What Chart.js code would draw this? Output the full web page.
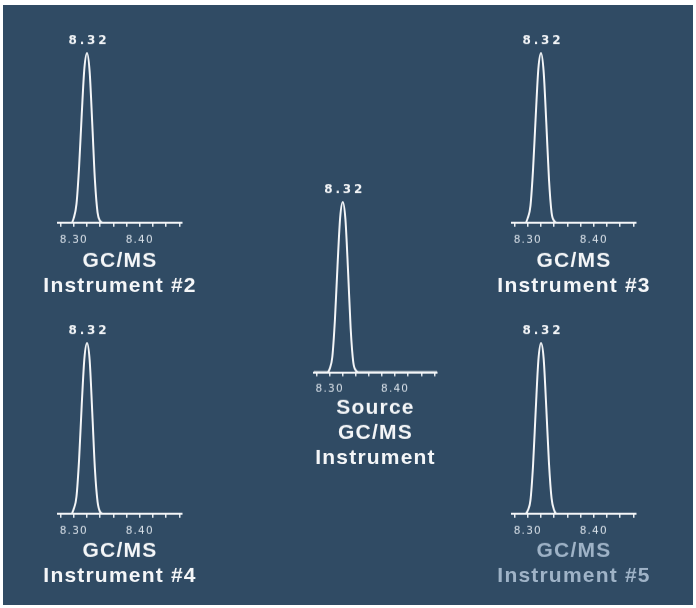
<!DOCTYPE html>
<html>
<head>
<meta charset="utf-8">
<script src="https://cdn.jsdelivr.net/npm/chart.js@4.4.0/dist/chart.umd.min.js"></script>
<style>
  html, body { margin: 0; padding: 0; background: #ffffff; }
  body { width: 696px; height: 608px; position: relative; overflow: hidden; }
  #board { position: absolute; left: 3px; top: 5px; right: 3px; bottom: 3px; background: #304b64; }
  .cell { position: absolute; }
</style>
</head>
<body>
<div id="board"></div>
<script>
// Retention time (min) of each sampled point; shared by all five traces.
const retentionTimes = [8.276, 8.296, 8.300, 8.304, 8.308, 8.312, 8.316, 8.320, 8.324, 8.328, 8.332, 8.336, 8.340, 8.344, 8.464];

// Normalised detector response for each instrument.
const sourceSignal      = [0, 0, 0.02, 0.09, 0.31, 0.63, 0.91, 1.00, 0.90, 0.60, 0.26, 0.06, 0.01, 0, 0];
const instrument2Signal = [0, 0, 0.03, 0.11, 0.33, 0.64, 0.91, 1.00, 0.89, 0.58, 0.25, 0.06, 0.01, 0, 0];
const instrument3Signal = [0, 0, 0.03, 0.10, 0.32, 0.63, 0.91, 1.00, 0.89, 0.59, 0.26, 0.06, 0.01, 0, 0];
const instrument4Signal = [0, 0, 0.03, 0.10, 0.32, 0.64, 0.91, 1.00, 0.90, 0.59, 0.26, 0.07, 0.01, 0, 0];
const instrument5Signal = [0, 0, 0.02, 0.08, 0.29, 0.61, 0.90, 1.00, 0.91, 0.62, 0.30, 0.09, 0.02, 0, 0];

// Time axis: range, minor tick positions and the ticks that carry a label.
const axisRange = [8.276, 8.464];
const tickValues = [8.28, 8.30, 8.32, 8.34, 8.36, 8.38, 8.40, 8.42, 8.44, 8.46];
const labelledTicks = ['8.30', '8.40'];

// Caption under each trace.
const sourceTitle      = ['Source', 'GC/MS', 'Instrument'];
const instrument2Title = ['GC/MS', 'Instrument #2'];
const instrument3Title = ['GC/MS', 'Instrument #3'];
const instrument4Title = ['GC/MS', 'Instrument #4'];
const instrument5Title = ['GC/MS', 'Instrument #5'];

// Panel placement on the page (axis left edge, peak top, axis line, axis length).
const panels = [
  { signal: instrument2Signal, title: instrument2Title, left: 58,  apexY: 53,  axisY: 222,   width: 124, gap: -4.5, color: '#f4f6f8' },
  { signal: instrument3Signal, title: instrument3Title, left: 512, apexY: 53,  axisY: 222,   width: 124, gap: -4.5, color: '#f4f6f8' },
  { signal: sourceSignal,      title: sourceTitle,      left: 314, apexY: 202, axisY: 371.5, width: 123, gap: -7,   color: '#f4f6f8' },
  { signal: instrument4Signal, title: instrument4Title, left: 58,  apexY: 343, axisY: 513,   width: 124, gap: -5.5, color: '#f4f6f8' },
  { signal: instrument5Signal, title: instrument5Title, left: 512, apexY: 343, axisY: 513,   width: 124, gap: -5.5, color: '#9fb3c7' }
];

const SIDE = 50, TOP = 35, TICK_LEN = 4, TICK_PAD = 7, TICK_LINE = 12, TITLE_LINE = 25;

// Letter spacing for the axis and caption text.
const textSpacing = {
  id: 'textSpacing',
  beforeDraw(chart) { chart.ctx.letterSpacing = '1.2px'; }
};

// Retention time printed above the apex of the trace.
const peakLabel = {
  id: 'peakLabel',
  afterDatasetsDraw(chart) {
    const pts = chart.data.datasets[0].data;
    let best = 0;
    pts.forEach((p, i) => { if (p.y > pts[best].y) best = i; });
    const el = chart.getDatasetMeta(0).data[best];
    const ctx = chart.ctx;
    ctx.save();
    ctx.letterSpacing = '2.8px';
    ctx.font = 'bold 12px "DejaVu Sans"';
    ctx.fillStyle = '#f4f6f8';
    ctx.textAlign = 'center';
    ctx.textBaseline = 'middle';
    ctx.fillText(pts[best].x.toFixed(2), el.x + 1.9, el.y - 12.5);
    ctx.restore();
  }
};

// Empty side gutters keep the plot narrow while the caption spans the full canvas.
const gutter = position => ({
  type: 'linear',
  position,
  display: true,
  min: 0,
  max: 1,
  grid: { display: false, drawTicks: false },
  border: { display: false },
  ticks: { display: false },
  afterFit: s => { s.width = SIDE; }
});

panels.forEach(p => {
  const cell = document.createElement('div');
  cell.className = 'cell';
  const top = p.apexY - TOP;
  const height = (p.axisY - top) + TICK_LEN + 2 * TICK_PAD + TICK_LINE + p.gap + p.title.length * TITLE_LINE;
  cell.style.left = (p.left - SIDE) + 'px';
  cell.style.top = top + 'px';
  cell.style.width = (p.width + 2 * SIDE) + 'px';
  cell.style.height = height + 'px';
  const canvas = document.createElement('canvas');
  cell.appendChild(canvas);
  document.body.appendChild(cell);

  new Chart(canvas, {
    type: 'line',
    data: {
      datasets: [{
        data: retentionTimes.map((t, i) => ({ x: t, y: p.signal[i] })),
        borderColor: '#f4f6f8',
        borderWidth: 2,
        pointRadius: 0,
        cubicInterpolationMode: 'monotone',
        fill: false,
        clip: false,
        yAxisID: 'y'
      }]
    },
    options: {
      responsive: true,
      maintainAspectRatio: false,
      animation: false,
      events: [],
      layout: { padding: { top: TOP, left: 0, right: 0, bottom: 0 } },
      plugins: {
        legend: { display: false },
        tooltip: { enabled: false },
        title: {
          display: true,
          position: 'bottom',
          text: p.title,
          color: p.color,
          font: { family: '"Liberation Sans", Arial, sans-serif', size: 21, weight: 'bold', lineHeight: TITLE_LINE / 21 },
          padding: { top: p.gap, bottom: 0 }
        }
      },
      scales: {
        x: {
          type: 'linear',
          min: axisRange[0],
          max: axisRange[1],
          afterBuildTicks: s => { s.ticks = tickValues.map(v => ({ value: v })); },
          grid: { display: true, drawOnChartArea: false, drawTicks: true, tickLength: TICK_LEN, color: '#e6ebf0', lineWidth: 1.5 },
          border: { display: true, color: '#f4f6f8', width: 2 },
          ticks: {
            autoSkip: false,
            maxRotation: 0,
            padding: TICK_PAD,
            color: '#d8e0e8',
            font: { family: '"DejaVu Sans", sans-serif', size: 10.5, lineHeight: TICK_LINE / 10.5 },
            callback: v => labelledTicks.includes(Number(v).toFixed(2)) ? Number(v).toFixed(2) : ''
          }
        },
        y: gutter('left'),
        yRight: gutter('right')
      }
    },
    plugins: [textSpacing, peakLabel]
  });
});
</script>
</body>
</html>
